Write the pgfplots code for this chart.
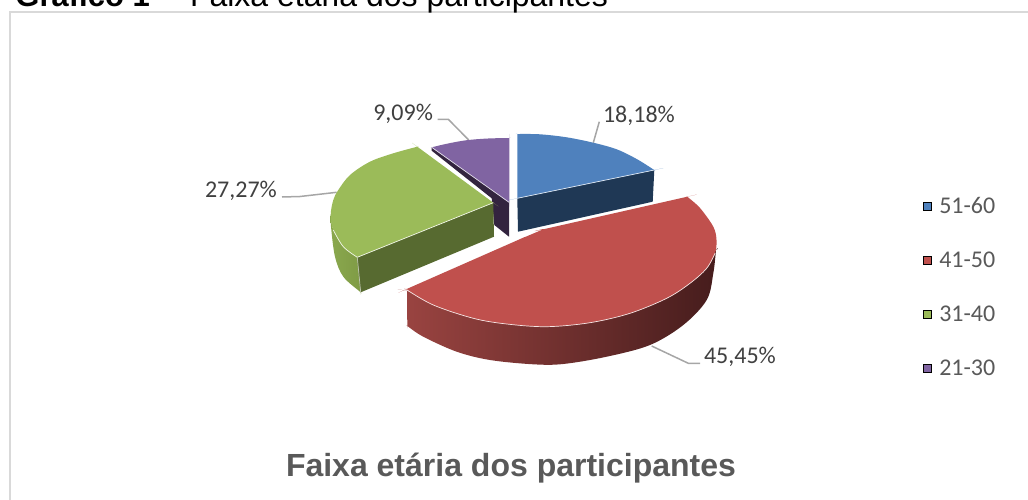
\documentclass[border=0pt]{standalone}
\usepackage{pgfplots}
\usepackage{fontspec}
\pgfplotsset{compat=1.18}
\setmainfont{Liberation Sans}
\newfontfamily\calib{Carlito}
\definecolor{cblue}{HTML}{4F81BD}
\definecolor{cbluedk}{HTML}{1F3855}
\definecolor{cred}{HTML}{C0504D}
\definecolor{credA}{HTML}{9F4643}
\definecolor{credB}{HTML}{6B2C2B}
\definecolor{credC}{HTML}{451C1C}
\definecolor{cgreen}{HTML}{9BBB59}
\definecolor{cgreendk}{HTML}{576A30}
\definecolor{cgreenA}{HTML}{7E9A44}
\definecolor{cgreenB}{HTML}{8AA84E}
\definecolor{cpurple}{HTML}{8064A2}
\definecolor{cpurpledk}{HTML}{33243F}
\definecolor{lead}{HTML}{A6A6A6}
\definecolor{frame}{HTML}{D9D9D9}
\definecolor{lab}{HTML}{404040}
\definecolor{leg}{HTML}{595959}
\begin{document}
\begin{tikzpicture}
\useasboundingbox (0,0) rectangle (1028pt,500pt);
\begin{axis}[at={(0,0)},anchor=south west,scale only axis,x=1pt,y=1pt,
  xmin=0,xmax=1028,ymin=0,ymax=500,y dir=reverse,hide axis,clip=false]
% frame
\addplot[frame,line width=2pt] coordinates {(1028,12) (9.5,12) (9.5,500)};
% leaders
\addplot[lead,line width=1.5pt] coordinates {(593.3,142.7) (599.3,121.7)};
\addplot[lead,line width=1.5pt] coordinates {(437.7,119.3) (448.3,119.3) (468.7,140)};
\addplot[lead,line width=1.5pt] coordinates {(282,197) (300,196.5) (336.7,192.3)};
\addplot[lead,line width=1.5pt] coordinates {(651.7,346) (688.3,363.3) (700,363.3)};
% purple
\addplot[fill=cpurpledk,draw=none] coordinates {(431.7,147.3) (509,201.7) (509,236.7) (494.3,225) (491.7,198.3) (431.7,150.7)} --cycle;
\addplot[smooth,tension=0.55,fill=cpurple,draw=none] coordinates {(431.7,147.3) (431.7,147.3) (431.7,147.3) (448,143.5) (466.7,140.2) (488,138.5) (509.3,138) (509.3,138) (509.3,138) (509.3,202.5) (509.3,202.5) (509.3,202.5)} --cycle;
\addplot[white!80!cpurple,line width=0.7pt] coordinates {(431.7,147.3) (509.3,202.5)};
% blue
\addplot[fill=cbluedk,draw=none] coordinates {(517.3,198.3) (654.3,170) (652.7,201.7) (518,231.7)} --cycle;
\addplot[smooth,tension=0.55,fill=cblue,draw=none] coordinates {(517.3,134) (517.3,134) (517.3,134) (540,134.3) (566.7,137.3) (593.3,142.7) (616.7,149.3) (636.7,159) (654.3,170) (654.3,170) (654.3,170) (517.3,198.3) (517.3,198.3) (517.3,198.3)} --cycle;
\addplot[white!80!cblue,line width=0.7pt] coordinates {(517.3,198.3) (654.3,170)};
% green
\addplot[smooth,tension=0.55,left color=cgreenB,right color=cgreenA,draw=none] coordinates {(330.7,215) (330.7,215) (331,226.7) (335,256.7) (343.3,276.7) (360.7,292.3) (360.7,292.3) (360.7,292.3) (357.3,257.3) (357.3,257.3) (357.3,257.3) (343.3,246.7) (333.3,230) (330.7,215) (330.7,215)} --cycle;
\addplot[fill=cgreendk,draw=none] coordinates {(357.3,257.3) (493.3,202.7) (494,236.7) (360.7,292.3)} --cycle;
\addplot[smooth,tension=0.55,fill=cgreen,draw=none] coordinates {(357.3,257.3) (357.3,257.3) (357.3,257.3) (343.3,246.7) (333.3,230) (330.7,215) (333.3,200) (338.3,190) (350,175) (370,161.7) (393.3,153.3) (417.3,146.7) (417.3,146.7) (417.3,146.7) (493.3,202.7) (493.3,202.7) (493.3,202.7)} --cycle;
\addplot[white!85!cgreen,line width=0.7pt] coordinates {(357.3,257.3) (493.3,202.7)};
\addplot[smooth,tension=0.55,white!85!cgreen,line width=0.7pt] coordinates {(333.3,230) (343.3,246.7) (357.3,257.3)};
\addplot[white!60!cgreendk,line width=0.7pt] coordinates {(357.3,257.3) (360.7,292.3)};
% red
\addplot[smooth,tension=0.55,left color=credA,middle color=credB,right color=credC,draw=none] coordinates {(407,291) (407,291) (407,291) (407.3,326) (407.3,326) (407.3,326) (423.3,336.7) (456.7,351.7) (490,360) (533.3,364.3) (563.3,364) (606.7,356.7) (650,345) (683.3,325) (706.7,300) (713.3,273.3) (716,250) (716,250) (716,250) (690,280) (690,280) (546.7,320) (546.7,320) (407,291) (407,291)} --cycle;
\addplot[smooth,tension=0.55,fill=cred,draw=none] coordinates {(406,289.3) (406,289.3) (406,289.3) (433.3,305) (473.3,318.3) (506.7,324) (546.7,326.7) (590,322.7) (630,313.3) (666.7,298.3) (690,283.3) (706.7,268.3) (715,253.3) (716.5,240) (713.3,226.7) (700,208) (687.3,196.7) (687.3,196.7) (687.3,196.7) (543.3,229.3) (543.3,229.3) (518,240) (518,240) (406,289.3) (406,289.3)} --cycle;
\addplot[smooth,tension=0.55,white!85!cred,line width=0.7pt] coordinates {(406.5,289.6) (433.3,305) (473.3,318.3) (506.7,324) (546.7,326.7) (590,322.7) (630,313.3) (666.7,298.3) (690,283.3) (706.7,268.3) (715,253.3)};
% legend markers
\addplot[only marks,mark=square*,mark size=4pt,mark options={draw=none,fill=cblue}] coordinates {(927,206)};
\addplot[only marks,mark=square*,mark size=4pt,mark options={draw=none,fill=cred}] coordinates {(927,260)};
\addplot[only marks,mark=square*,mark size=4pt,mark options={draw=none,fill=cgreen}] coordinates {(927,314)};
\addplot[only marks,mark=square*,mark size=4pt,mark options={draw=none,fill=cpurple}] coordinates {(927,368)};
% texts
\tikzset{t/.style={anchor=base west,inner sep=0pt,outer sep=0pt}}
\node[t,text=black] at (axis cs:15.5,6.5) {\fontsize{31}{31}\selectfont\textbf{Gráfico 1}};
\node[t,text=black] at (axis cs:190,6.5) {\fontsize{32}{32}\selectfont Faixa etária dos participantes};
\node[t,text=leg] at (axis cs:286,476) {\fontsize{32}{32}\selectfont\textbf{Faixa etária dos participantes}};
\node[t,text=lab] at (axis cs:373.3,120.7) {\calib\fontsize{24}{24}\selectfont 9,09\%};
\node[t,text=lab] at (axis cs:603,122.3) {\calib\fontsize{24}{24}\selectfont 18,18\%};
\node[t,text=lab] at (axis cs:205,197.5) {\calib\fontsize{24}{24}\selectfont 27,27\%};
\node[t,text=lab] at (axis cs:704,363.5) {\calib\fontsize{24}{24}\selectfont 45,45\%};
\node[t,text=leg] at (axis cs:939.3,213.3) {\calib\fontsize{24}{24}\selectfont 51-60};
\node[t,text=leg] at (axis cs:939.3,267.3) {\calib\fontsize{24}{24}\selectfont 41-50};
\node[t,text=leg] at (axis cs:939.3,321.7) {\calib\fontsize{24}{24}\selectfont 31-40};
\node[t,text=leg] at (axis cs:939.3,375) {\calib\fontsize{24}{24}\selectfont 21-30};
\end{axis}
\end{tikzpicture}
\end{document}
